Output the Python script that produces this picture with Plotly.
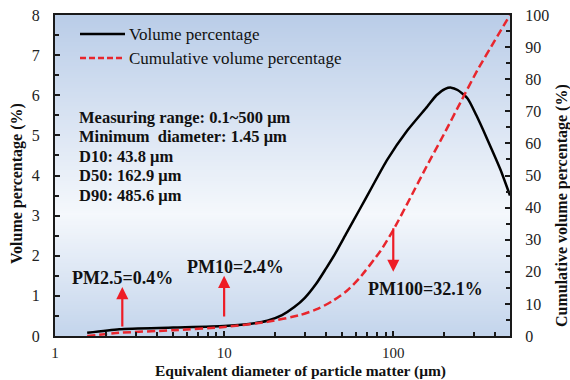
import math
import zlib
import struct
import base64
import plotly.graph_objects as go

# ---------------- data ----------------
DIAM_VOL = [1.55, 2.4, 5, 10, 14, 18, 22, 26, 30, 35, 40, 45, 53, 63, 75, 92, 121, 159, 180, 203, 220, 240, 275, 310, 360, 430, 490]
VOLUME_PCT = [0.08, 0.17, 0.21, 0.25, 0.3, 0.38, 0.52, 0.72, 0.95, 1.3, 1.68, 2.03, 2.57, 3.14, 3.72, 4.39, 5.12, 5.72, 6.0, 6.16, 6.19, 6.13, 5.92, 5.5, 4.9, 4.15, 3.5]

DIAM_CUM = [1.55, 2.4, 5, 10, 18, 28, 36, 44, 53, 63, 84, 100, 126, 158, 200, 251, 316, 398, 490]
CUMULATIVE_PCT = [0, 1, 1.8, 2.8, 4.4, 6.5, 8.5, 11, 14, 18, 26.5, 33, 43, 53, 63, 73, 83, 92, 100]

SERIES_NAMES = ["Volume percentage", "Cumulative volume percentage"]

INFO_LINES = ["Measuring range: 0.1~500 \u03bcm",
              "Minimum\u00a0 diameter: 1.45 \u03bcm",
              "D10: 43.8 \u03bcm",
              "D50: 162.9 \u03bcm",
              "D90: 485.6 \u03bcm"]

PM_SIZES = [2.5, 10, 100]
PM_LABELS = ["PM2.5=0.4%", "PM10=2.4%", "PM100=32.1%"]
ARROW_TAIL_Y = [0.2, 0.45, 2.72]
ARROW_HEAD_Y = [1.22, 1.5, 1.6]
LABEL_X = [2.5, 11.6, 155]
LABEL_Y = [1.45, 1.72, 1.17]

X_RANGE = [1, 490]
Y_LEFT = [0, 8]
Y_RIGHT = [0, 100]

SERIF = "Liberation Serif, Times New Roman, serif"
AXIS_COL = "#1a1a1a"
RED = "#e8262d"

# plot box in pixels (margins)
W, H = 570, 380
ML, MR, MT, MB = 55, 60, 15, 44
PW, PH = W - ML - MR, H - MT - MB


def px_x(p):
    return (p - ML) / PW


def px_y(p):
    return (H - MB - p) / PH


# ---------- vertical gradient background as a tiny PNG ----------
def gradient_png(stops, height=160):
    rows = b""
    for r in range(height):
        f = r / (height - 1)  # 0 = top, 1 = bottom
        for (p0, c0), (p1, c1) in zip(stops[:-1], stops[1:]):
            if p0 <= f <= p1:
                t = (f - p0) / (p1 - p0) if p1 > p0 else 0
                col = [round(a + (b - a) * t) for a, b in zip(c0, c1)]
                break
        rows += b"\x00" + bytes(col) * 4
    def chunk(tag, data):
        c = struct.pack(">I", len(data)) + tag + data
        return c + struct.pack(">I", zlib.crc32(tag + data) & 0xffffffff)
    png = b"\x89PNG\r\n\x1a\n"
    png += chunk(b"IHDR", struct.pack(">IIBBBBB", 4, height, 8, 2, 0, 0, 0))
    png += chunk(b"IDAT", zlib.compress(rows))
    png += chunk(b"IEND", b"")
    return "data:image/png;base64," + base64.b64encode(png).decode()


BG_STOPS = [(0.0, (186, 205, 232)), (0.62, (245, 248, 252)), (1.0, (196, 213, 236))]

fig = go.Figure()

fig.add_trace(go.Scatter(
    x=DIAM_VOL, y=VOLUME_PCT, mode="lines", name=SERIES_NAMES[0],
    line=dict(color="#000000", width=2.5, shape="spline", smoothing=0.6),
    showlegend=False))

fig.add_trace(go.Scatter(
    x=DIAM_CUM, y=CUMULATIVE_PCT, mode="lines", name=SERIES_NAMES[1],
    line=dict(color=RED, width=2.5, dash="8px,4px", shape="spline", smoothing=0.6),
    yaxis="y2", showlegend=False))

annotations = []
shapes = []

# manual legend
LEG_Y = [34, 58]
LEG_STYLE = [dict(color="#000000", width=2.5), dict(color=RED, width=2.5, dash="6px,3px")]
for name, ly, st in zip(SERIES_NAMES, LEG_Y, LEG_STYLE):
    shapes.append(dict(type="line", xref="paper", yref="paper",
                       x0=px_x(80), x1=px_x(125), y0=px_y(ly), y1=px_y(ly), line=st))
    annotations.append(dict(xref="paper", yref="paper", x=px_x(127), y=px_y(ly),
                            xanchor="left", yanchor="middle", text=name, showarrow=False,
                            font=dict(family=SERIF, size=17, color="#111")))

for i, txt in enumerate(INFO_LINES):
    annotations.append(dict(
        xref="paper", yref="paper", x=px_x(77), y=px_y(117 + 19.5 * i),
        xanchor="left", yanchor="middle", text="<b>%s</b>" % txt, showarrow=False,
        font=dict(family=SERIF, size=16.5, color="#111")))

for s, t0, t1, lab, lx, ly in zip(PM_SIZES, ARROW_TAIL_Y, ARROW_HEAD_Y, PM_LABELS, LABEL_X, LABEL_Y):
    annotations.append(dict(
        xref="x", yref="y", axref="x", ayref="y",
        x=math.log10(s), y=t1, ax=math.log10(s), ay=t0,
        text="", showarrow=True, arrowhead=2, arrowsize=1.1, arrowwidth=2.2,
        arrowcolor="#ee1c25", standoff=0, startstandoff=0))
    annotations.append(dict(
        xref="x", yref="y", x=math.log10(lx), y=ly, text="<b>%s</b>" % lab,
        showarrow=False, xanchor="center", yanchor="middle",
        font=dict(family=SERIF, size=18, color="#111")))

# axis titles
annotations.append(dict(xref="paper", yref="paper", x=px_x(300), y=px_y(371),
                        text="<b>Equivalent diameter of particle matter (\u03bcm)</b>",
                        showarrow=False, xanchor="center", yanchor="middle",
                        font=dict(family=SERIF, size=15.5, color="#111")))
annotations.append(dict(xref="paper", yref="paper", x=px_x(17), y=px_y(184),
                        text="<b>Volume percentage (%)</b>", textangle=-90,
                        showarrow=False, xanchor="center", yanchor="middle",
                        font=dict(family=SERIF, size=16, color="#111")))
annotations.append(dict(xref="paper", yref="paper", x=px_x(562), y=px_y(206),
                        text="<b>Cumulative volume percentage (%)</b>", textangle=-90,
                        showarrow=False, xanchor="center", yanchor="middle",
                        font=dict(family=SERIF, size=16, color="#111")))

tickfont = dict(family=SERIF, size=16, color="#222")
xtickfont = dict(family=SERIF, size=15, color="#222")

fig.update_layout(
    width=W, height=H,
    margin=dict(l=ML, r=MR, t=MT, b=MB, pad=0, autoexpand=False),
    paper_bgcolor="white", plot_bgcolor="white",
    font=dict(family=SERIF),
    showlegend=False,
    images=[dict(source=gradient_png(BG_STOPS), xref="paper", yref="paper",
                 x=0, y=1, sizex=1, sizey=1, sizing="stretch",
                 xanchor="left", yanchor="top", layer="below")],
    xaxis=dict(type="log", range=[math.log10(X_RANGE[0]), math.log10(X_RANGE[1])],
               dtick=1, showgrid=False, zeroline=False, automargin=False,
               showline=True, linecolor=AXIS_COL, linewidth=2, mirror=True,
               ticks="inside", ticklen=5, tickwidth=1.5, tickcolor=AXIS_COL,
               minor=dict(ticks="inside", ticklen=4, tickwidth=1.5, tickcolor=AXIS_COL, showgrid=False),
               tickfont=xtickfont, ticklabelstandoff=2),
    yaxis=dict(range=Y_LEFT, dtick=1, showgrid=False, zeroline=False, automargin=False,
               showline=True, linecolor=AXIS_COL, linewidth=2,
               ticks="inside", ticklen=5, tickwidth=1.5, tickcolor=AXIS_COL,
               minor=dict(dtick=0.5, ticks="inside", ticklen=4, tickwidth=1.5, tickcolor=AXIS_COL, showgrid=False),
               tickfont=tickfont, ticklabelstandoff=10),
    yaxis2=dict(range=Y_RIGHT, dtick=10, overlaying="y", side="right", automargin=False,
                showgrid=False, zeroline=False,
                showline=True, linecolor=AXIS_COL, linewidth=2,
                ticks="inside", ticklen=5, tickwidth=1.5, tickcolor=AXIS_COL,
                minor=dict(dtick=5, ticks="inside", ticklen=4, tickwidth=1.5, tickcolor=AXIS_COL, showgrid=False),
                tickfont=tickfont, ticklabelstandoff=10),
    shapes=shapes,
    annotations=annotations,
)

fig.write_html("out.html", config={"displayModeBar": False},
               post_script="document.body.style.margin='0';")
